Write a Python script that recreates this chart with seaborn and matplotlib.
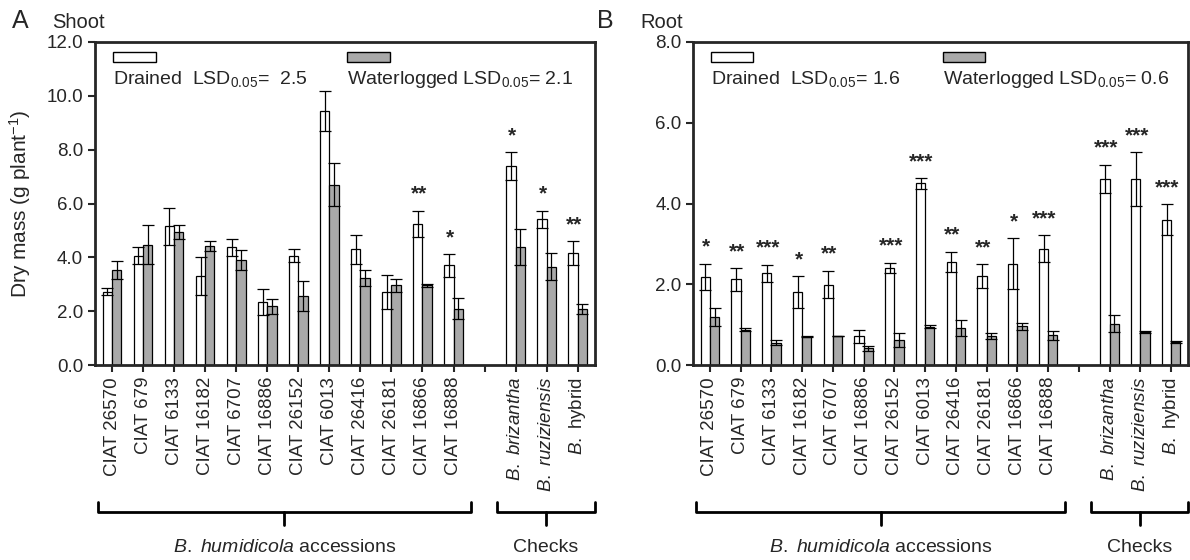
import numpy as np
import pandas as pd
import matplotlib
matplotlib.use("Agg")
import matplotlib.pyplot as plt
from matplotlib.patches import Rectangle
import seaborn as sns

# accessions + checks
accessions = ["CIAT 26570", "CIAT 679", "CIAT 6133", "CIAT 16182", "CIAT 6707",
              "CIAT 16886", "CIAT 26152", "CIAT 6013", "CIAT 26416", "CIAT 26181",
              "CIAT 16866", "CIAT 16888"]
checks = ["B. brizantha", "B. ruziziensis", "B. hybrid"]
check_labels = [r"$\mathit{B.}$ $\mathit{brizantha}$", r"$\mathit{B.}$ $\mathit{ruziziensis}$",
                r"$\mathit{B.}$ hybrid"]

shoot_drained = [2.72, 4.07, 5.15, 3.3, 4.38, 2.35, 4.07, 9.45, 4.3, 2.72, 5.25, 3.7, 7.38, 5.41, 4.15]
shoot_drained_se = [0.13, 0.3, 0.69, 0.7, 0.31, 0.49, 0.25, 0.74, 0.55, 0.64, 0.49, 0.41, 0.52, 0.33, 0.45]
shoot_water = [3.52, 4.47, 4.96, 4.42, 3.89, 2.19, 2.56, 6.7, 3.23, 2.96, 2.96, 2.1, 4.4, 3.65, 2.08]
shoot_water_se = [0.34, 0.73, 0.26, 0.18, 0.37, 0.28, 0.56, 0.8, 0.29, 0.23, 0.06, 0.39, 0.67, 0.5, 0.2]
shoot_stars = ["", "", "", "", "", "", "", "", "", "", "**", "*", "*", "*", "**"]

root_drained = [2.18, 2.12, 2.28, 1.81, 1.99, 0.72, 2.4, 4.5, 2.55, 2.2, 2.51, 2.88, 4.61, 4.61, 3.6]
root_drained_se = [0.33, 0.28, 0.21, 0.39, 0.34, 0.16, 0.13, 0.13, 0.25, 0.3, 0.63, 0.33, 0.35, 0.66, 0.38]
root_water = [1.19, 0.88, 0.56, 0.7, 0.72, 0.42, 0.62, 0.95, 0.92, 0.72, 0.96, 0.74, 1.03, 0.82, 0.58]
root_water_se = [0.23, 0.04, 0.07, 0.01, 0.01, 0.06, 0.18, 0.04, 0.2, 0.08, 0.09, 0.11, 0.2, 0.03, 0.02]
root_stars = ["*", "**", "***", "*", "**", "", "***", "***", "**", "**", "*", "***", "***", "***", "***"]

sns.set_style("ticks")
plt.rcParams["font.family"] = ["Liberation Sans", "DejaVu Sans"]
plt.rcParams["mathtext.fontset"] = "custom"
plt.rcParams["mathtext.rm"] = "Liberation Sans"
plt.rcParams["mathtext.it"] = "Liberation Sans:italic"

order = accessions + [" "] + checks
labels = accessions + [""] + check_labels
names = accessions + checks
gray = "#a9a9a9"


def panel(ax, drained, d_se, water, w_se, stars, ymax, lsd_d, lsd_w):
    df = pd.DataFrame({
        "line": names * 2,
        "treat": ["Drained"] * len(names) + ["Waterlogged"] * len(names),
        "mass": drained + water,
    })
    sns.barplot(data=df, x="line", y="mass", hue="treat", order=order,
                hue_order=["Drained", "Waterlogged"], palette=["white", gray],
                width=0.6, errorbar=None, edgecolor="black", linewidth=0.9,
                legend=False, ax=ax, zorder=2)
    xs = np.array([order.index(n) for n in names], dtype=float)
    ax.errorbar(xs - 0.15, drained, yerr=d_se, fmt="none", ecolor="black",
                elinewidth=0.9, capsize=4.5, capthick=0.9, zorder=3)
    ax.errorbar(xs + 0.15, water, yerr=w_se, fmt="none", ecolor="black",
                elinewidth=0.9, capsize=4.5, capthick=0.9, zorder=3)
    for x, d, de, w, we, s in zip(xs, drained, d_se, water, w_se, stars):
        if s:
            top = max(d + de, w + we)
            ax.annotate(s, (x - 0.12, top), xytext=(0, 12), textcoords="offset points",
                        ha="center", va="center", fontsize=15, fontweight="bold")

    ax.set_xlim(-0.55, 15.55)
    ax.set_ylim(0, ymax)
    ax.set_yticks(np.arange(0, ymax + 0.1, 2))
    ax.set_yticklabels([f"{v:.1f}" for v in np.arange(0, ymax + 0.1, 2)], fontsize=13.5)
    ax.set_xticks(range(len(order)))
    ax.set_xticklabels(labels, rotation=90, fontsize=13.5)
    ax.set_xlabel("")
    ax.set_ylabel("")
    for sp in ax.spines.values():
        sp.set_visible(True)
        sp.set_linewidth(2)
    ax.tick_params(axis="both", direction="out", length=5, width=1.5)

    # legend boxes with LSD values
    ax.add_patch(Rectangle((0.036, 0.938), 0.086, 0.031, transform=ax.transAxes,
                           facecolor="white", edgecolor="black", lw=1, clip_on=False))
    ax.add_patch(Rectangle((0.504, 0.938), 0.086, 0.031, transform=ax.transAxes,
                           facecolor=gray, edgecolor="black", lw=1, clip_on=False))
    ax.text(0.036, 0.885, "Drained  LSD$_{0.05}$= " + lsd_d, transform=ax.transAxes,
            ha="left", va="center", fontsize=14)
    ax.text(0.504, 0.885, "Waterlogged LSD$_{0.05}$= " + lsd_w, transform=ax.transAxes,
            ha="left", va="center", fontsize=14)

    # group brackets under the tick labels
    tr = ax.get_xaxis_transform()
    for x0, x1, txt in [(-0.45, 11.55, r"$\mathit{B.}$ $\mathit{humidicola}$ accessions"),
                        (12.4, 15.55, "Checks")]:
        mid = (x0 + x1) / 2
        ax.plot([x0, x0, x1, x1], [-0.425, -0.455, -0.455, -0.425], color="black",
                lw=2, transform=tr, clip_on=False)
        ax.plot([mid, mid], [-0.455, -0.495], color="black", lw=2, transform=tr, clip_on=False)
        ax.text(mid, -0.565, txt, transform=tr, ha="center", va="center", fontsize=14)


fig = plt.figure(figsize=(11.9, 5.6), dpi=100)
ax1 = fig.add_axes([0.0798, 0.348, 0.42, 0.577])
ax2 = fig.add_axes([0.5824, 0.348, 0.416, 0.577])

panel(ax1, shoot_drained, shoot_drained_se, shoot_water, shoot_water_se, shoot_stars, 12, " 2.5", "2.1")
panel(ax2, root_drained, root_drained_se, root_water, root_water_se, root_stars, 8, "1.6", "0.6")

ax1.set_ylabel("Dry mass (g plant$^{-1}$)", fontsize=15, labelpad=10)
fig.text(0.010, 0.962, "A", fontsize=18, va="center")
fig.text(0.044, 0.960, "Shoot", fontsize=14.5, va="center")
fig.text(0.502, 0.962, "B", fontsize=18, va="center")
fig.text(0.538, 0.960, "Root", fontsize=14.5, va="center")

fig.savefig("out.png", dpi=100)
